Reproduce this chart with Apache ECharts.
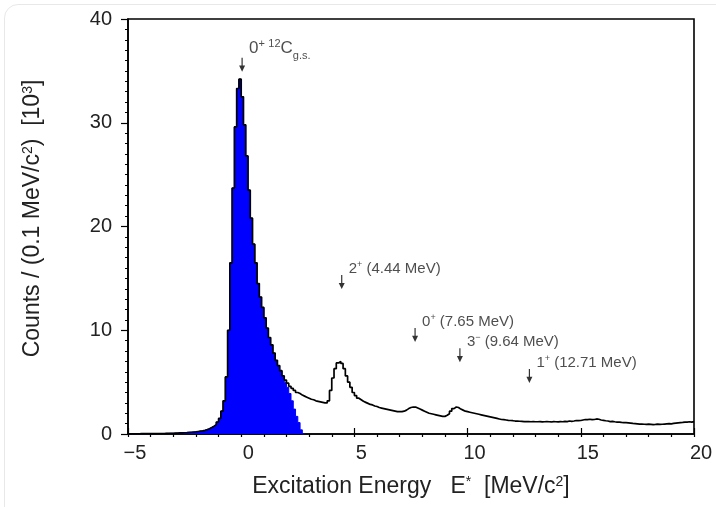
<!DOCTYPE html>
<html>
<head>
<meta charset="utf-8">
<script src="https://cdn.jsdelivr.net/npm/echarts@6/dist/echarts.min.js"></script>
<style>
  html, body { margin: 0; padding: 0; background: #ffffff; }
  #wrap { position: relative; width: 716px; height: 507px; overflow: hidden; }
  #card { position: absolute; left: 4px; top: 4px; right: -20px; bottom: -20px; border: 1px solid #e8e8e8; border-radius: 14px; }
  #chart { position: absolute; left: 0; top: 0; width: 716px; height: 507px; }
</style>
</head>
<body>
<div id="wrap"><div id="card"></div><div id="chart"></div></div>
<script>
// Histogram binning (MeV/c^2)
var binStart = -5.0;
var binWidth = 0.1;

// Total counts per 0.1 MeV bin, in units of 10^3, bins from -5.0 to 20.0
var totalCounts = [
  0.02,0.02,0.02,0.02,0.02,0.03,0.03,0.03,0.03,0.03,   // -5 .. -4
  0.04,0.04,0.04,0.05,0.05,0.05,0.06,0.06,0.07,0.07,   // -4 .. -3
  0.08,0.09,0.10,0.11,0.12,0.13,0.15,0.17,0.19,0.21,   // -3 .. -2
  0.24,0.27,0.30,0.35,0.42,0.50,0.62,0.75,0.90,1.15,   // -2 .. -1
  1.5,2.2,3.2,5.5,10.0,16.5,23.7,29.6,33.3,34.2,       // -1 .. 0
  32.5,29.8,26.8,23.5,20.8,18.3,16.5,14.5,13.2,12.2,   // 0 .. 1
  11.2,10.2,9.3,8.6,7.8,7.1,6.6,6.1,5.6,5.2,           // 1 .. 2
  4.9,4.6,4.4,4.2,4.0,3.9,3.75,3.65,3.55,3.45,         // 2 .. 3
  3.35,3.3,3.2,3.15,3.1,3.05,3.0,3.0,3.2,4.2,          // 3 .. 4
  5.4,6.3,6.85,7.0,6.8,6.3,5.6,5.0,4.5,4.0,            // 4 .. 5
  3.7,3.45,3.3,3.15,3.05,2.95,2.85,2.8,2.7,2.65,       // 5 .. 6
  2.55,2.5,2.45,2.4,2.35,2.3,2.25,2.2,2.15,2.15,       // 6 .. 7
  2.15,2.2,2.3,2.45,2.55,2.6,2.6,2.5,2.4,2.3,          // 7 .. 8
  2.2,2.1,2.0,1.95,1.9,1.85,1.8,1.75,1.7,1.7,          // 8 .. 9
  1.8,1.95,2.2,2.45,2.6,2.55,2.4,2.3,2.2,2.15,         // 9 .. 10
  2.1,2.05,2.0,1.95,1.9,1.85,1.8,1.75,1.7,1.65,        // 10 .. 11
  1.6,1.55,1.5,1.45,1.4,1.38,1.35,1.32,1.3,1.28,       // 11 .. 12
  1.25,1.25,1.23,1.22,1.2,1.2,1.2,1.18,1.2,1.18,       // 12 .. 13
  1.18,1.2,1.17,1.18,1.2,1.18,1.16,1.2,1.18,1.17,      // 13 .. 14
  1.2,1.18,1.22,1.2,1.25,1.22,1.25,1.3,1.28,1.3,       // 14 .. 15
  1.35,1.4,1.38,1.42,1.38,1.4,1.45,1.42,1.35,1.32,     // 15 .. 16
  1.28,1.25,1.2,1.22,1.18,1.15,1.15,1.12,1.1,1.1,      // 16 .. 17
  1.08,1.05,1.02,1.0,0.98,0.95,0.96,0.94,0.93,0.95,    // 17 .. 18
  0.93,0.9,0.92,0.95,0.93,0.94,0.96,0.98,1.0,0.98,     // 18 .. 19
  1.02,1.05,1.08,1.1,1.12,1.15,1.15,1.18,1.15,1.2      // 19 .. 20
];

// Ground-state (0+ 12C g.s.) component, blue filled; bins from -5.0 up to 2.7
var gsCounts = [
  0.02,0.02,0.02,0.02,0.02,0.03,0.03,0.03,0.03,0.03,
  0.04,0.04,0.04,0.05,0.05,0.05,0.06,0.06,0.07,0.07,
  0.08,0.09,0.10,0.11,0.12,0.13,0.15,0.17,0.19,0.21,
  0.24,0.27,0.30,0.35,0.42,0.50,0.62,0.75,0.90,1.15,
  1.5,2.2,3.2,5.5,10.0,16.5,23.7,29.6,33.3,34.2,
  32.5,29.8,26.8,23.5,20.8,18.3,16.5,14.5,13.2,12.2,
  11.2,10.2,9.3,8.6,7.8,7.1,6.6,6.1,5.6,5.0,
  4.5,3.9,3.2,2.4,1.7,1.1,0.4,0
];

// State annotations
var stateEnergy = [0.04, 4.44, 7.68, 9.66, 12.73];
var stateArrowY = [35.6, 14.65, 9.55, 7.6, 5.6];
var stateLabels = [
  '{b|0}{sp|+} {sp|12}{b|C}{sb|g.s.}',
  '{m|2}{s|+}{m| (4.44 MeV)}',
  '{m|0}{s|+}{m| (7.65 MeV)}',
  '{m|3}{s|\u2212}{m| (9.64 MeV)}',
  '{m|1}{s|+}{m| (12.71 MeV)}'
];

// Axis ticks
var xMin = -5, xMax = 20, xMajor = 5, xMinor = 1;
var yMin = 0, yMax = 40, yMajor = 10;

function stepData(start, width, vals) {
  var d = [];
  for (var i = 0; i < vals.length; i++) d.push([+(start + i * width).toFixed(2), vals[i]]);
  d.push([+(start + vals.length * width).toFixed(2), vals[vals.length - 1]]);
  return d;
}

var FONT = '"Liberation Sans", Arial, Helvetica, sans-serif';
var TXT = '#222222';
var chart = echarts.init(document.getElementById('chart'), null, { renderer: 'canvas' });

var annData = stateEnergy.map(function (e, i) {
  return { value: [e, stateArrowY[i]], label: { formatter: stateLabels[i], position: i === 0 ? [10, -9] : [10, -6] } };
});

chart.setOption({
  animation: false,
  backgroundColor: 'transparent',
  grid: { left: 128, right: 22, top: 19, bottom: 73, show: true, borderColor: '#000', borderWidth: 1.6, backgroundColor: 'transparent' },
  xAxis: [{
    type: 'value', min: xMin, max: xMax, interval: xMajor,
    axisLine: { show: true, onZero: false, lineStyle: { color: '#000', width: 1.6 } },
    axisTick: { show: true, inside: true, length: 6, lineStyle: { color: '#000', width: 1.2 } },
    axisLabel: { fontFamily: FONT, fontSize: 20, color: TXT, margin: 9, padding: [0, 0, 0, 14],
      formatter: function (v) { return String(v).replace('-', '\u2212'); } },
    splitLine: { show: false },
    name: 'Excitation Energy   E{sup|*}  [MeV/c{sup|2}]',
    nameLocation: 'middle', nameGap: 41,
    nameTextStyle: { fontFamily: FONT, fontSize: 23, color: TXT,
      rich: { sup: { fontFamily: FONT, fontSize: 14, color: TXT, verticalAlign: 'top', lineHeight: 12 } } }
  }, {
    type: 'value', min: xMin, max: xMax, interval: xMinor, position: 'bottom',
    axisLine: { show: false, onZero: false },
    axisTick: { show: true, inside: false, length: 3, lineStyle: { color: '#000', width: 1.2 } },
    axisLabel: { show: false }, splitLine: { show: false }
  }],
  yAxis: [{
    type: 'value', min: yMin, max: yMax, interval: yMajor,
    axisLine: { show: true, onZero: false, lineStyle: { color: '#000', width: 1.6 } },
    axisTick: { show: true, inside: false, length: 7, lineStyle: { color: '#000', width: 1.2 } },
    minorTick: { show: true, splitNumber: 10, length: 3, lineStyle: { color: '#000', width: 1 } },
    axisLabel: { fontFamily: FONT, fontSize: 20, color: TXT, margin: 16 },
    splitLine: { show: false },
    name: 'Counts / (0.1 MeV/c{sup|2})  [10{sup|3}]',
    nameLocation: 'middle', nameRotate: 90, nameGap: 84,
    nameTextStyle: { fontFamily: FONT, fontSize: 23, color: TXT, padding: [0, 0, 0, 16],
      rich: { sup: { fontFamily: FONT, fontSize: 14, color: TXT, verticalAlign: 'top', lineHeight: 12 } } }
  }],
  series: [{
    type: 'line', name: 'gs', step: 'end', symbol: 'none', silent: true,
    data: stepData(binStart, binWidth, gsCounts),
    lineStyle: { width: 1, color: '#0000ff' },
    areaStyle: { color: '#0000ff', opacity: 1, origin: 'start' },
    z: 2
  }, {
    type: 'line', name: 'total', step: 'end', symbol: 'none', silent: true,
    data: stepData(binStart, binWidth, totalCounts),
    lineStyle: { width: 1.7, color: '#000' },
    z: 3
  }, {
    type: 'scatter', name: 'states', silent: true,
    symbol: 'path://M3.4,0 L4.6,0 L4.6,9 L7,9 L4,16 L1,9 L3.4,9 Z',
    symbolSize: [6, 14],
    itemStyle: { color: '#000' },
    data: annData,
    label: {
      show: true, align: 'left', verticalAlign: 'middle',
      rich: {
        b: { fontFamily: FONT, fontSize: 17, color: TXT, lineHeight: 20 },
        sp: { fontFamily: FONT, fontSize: 11, color: TXT, verticalAlign: 'top', lineHeight: 12 },
        sb: { fontFamily: FONT, fontSize: 11, color: TXT, verticalAlign: 'bottom', lineHeight: 10, padding: [0, 0, -3, 0] },
        m: { fontFamily: FONT, fontSize: 15, color: TXT, lineHeight: 18 },
        s: { fontFamily: FONT, fontSize: 9, color: TXT, verticalAlign: 'top', lineHeight: 10 }
      }
    },
    z: 4
  }]
});
</script>
</body>
</html>
